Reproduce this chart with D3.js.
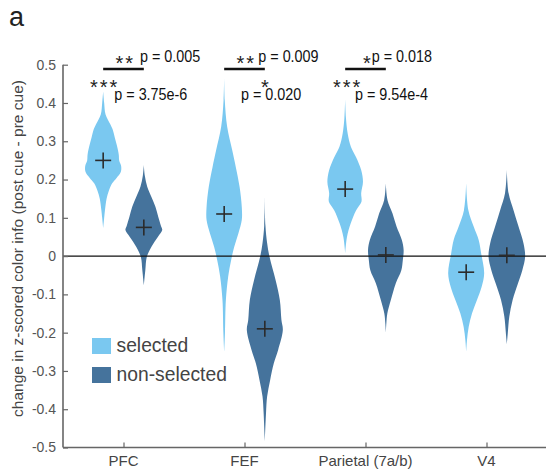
<!DOCTYPE html>
<html>
<head>
<meta charset="utf-8">
<script src="https://cdn.jsdelivr.net/npm/d3@7"></script>
<style>
  body { margin: 0; background: #fff; }
  svg { display: block; }
</style>
</head>
<body>
<svg id="chart" width="546" height="473"></svg>
<script>
// ---- data ----
const regions = ["PFC", "FEF", "Parietal (7a/b)", "V4"];
const groups = ["selected", "non-selected"];

// mean change per region (cross markers)
const meanSelected = [0.25, 0.11, 0.175, -0.042];
const meanNonSelected = [0.075, -0.19, 0.003, 0.002];

// bootstrap distributions as [value, relative density] profiles, top to bottom
const densitySelected = [
  [[0.43,0],[0.40,0.05],[0.37,0.12],[0.345,0.35],[0.33,0.48],[0.31,0.58],[0.29,0.68],[0.265,0.78],[0.25,0.8],[0.235,0.9],[0.22,0.88],[0.205,0.68],[0.19,0.45],[0.17,0.28],[0.15,0.17],[0.12,0.09],[0.10,0.05],[0.073,0]],
  [[0.465,0],[0.407,0.03],[0.338,0.15],[0.277,0.4],[0.233,0.58],[0.181,0.77],[0.129,0.88],[0.094,0.88],[0.059,0.71],[0.024,0.5],[-0.01,0.35],[-0.054,0.2],[-0.115,0.085],[-0.2,0.04],[-0.25,0]],
  [[0.41,0],[0.36,0.04],[0.32,0.125],[0.285,0.29],[0.259,0.54],[0.225,0.8],[0.194,0.89],[0.164,0.8],[0.142,0.815],[0.12,0.55],[0.085,0.275],[0.05,0.09],[0.007,0]],
  [[0.19,0],[0.12,0.11],[0.077,0.375],[0.042,0.625],[0.007,0.75],[-0.045,0.9],[-0.08,0.775],[-0.115,0.54],[-0.15,0.29],[-0.185,0.125],[-0.22,0.04],[-0.25,0]]
];
const densityNonSelected = [
  [[0.238,0],[0.21,0.05],[0.181,0.17],[0.155,0.375],[0.129,0.58],[0.103,0.72],[0.08,0.85],[0.068,0.92],[0.05,0.7],[0.024,0.375],[-0.002,0.15],[-0.037,0.075],[-0.076,0]],
  [[0.155,0],[0.08,0.03],[0.034,0.115],[-0.002,0.235],[-0.063,0.54],[-0.115,0.75],[-0.167,0.83],[-0.193,0.9],[-0.245,0.665],[-0.28,0.45],[-0.324,0.265],[-0.367,0.115],[-0.41,0.06],[-0.485,0]],
  [[0.19,0],[0.146,0.085],[0.111,0.335],[0.077,0.535],[0.042,0.8],[0.016,0.89],[-0.01,0.85],[-0.037,0.775],[-0.071,0.5],[-0.115,0.25],[-0.15,0.075],[-0.176,0.025],[-0.2,0]],
  [[0.225,0],[0.164,0.09],[0.12,0.335],[0.077,0.585],[0.033,0.835],[-0.002,0.915],[-0.037,0.775],[-0.071,0.56],[-0.115,0.29],[-0.158,0.125],[-0.2,0.05],[-0.23,0]]
];

const yTicks = [0.5, 0.4, 0.3, 0.2, 0.1, 0, -0.1, -0.2, -0.3, -0.4, -0.5];
const yTickLabels = ["0.5", "0.4", "0.3", "0.2", "0.1", "0", "-0.1", "-0.2", "-0.3", "-0.4", "-0.5"];

// significance: selected vs non-selected, and selected vs zero
const starsBetween = ["**", "**", "*"];
const pBetween = ["0.005", "0.009", "0.018"];
const starsSelected = ["***", "*", "***"];
const pSelected = ["3.75e-6", "0.020", "9.54e-4"];

// ---- layout ----
const colors = { "selected": "#7ac8f0", "non-selected": "#45739c" };
const svg = d3.select("#chart");
const plotLeft = 63, plotRight = 547, plotTop = 64.7, plotBottom = 447.5;
const sansFont = "Liberation Sans, Arial, sans-serif";

const x = d3.scaleLinear().domain([-0.5, regions.length - 0.5]).range([plotLeft, plotRight]);
const y = d3.scaleLinear().domain([-0.5, 0.5]).range([plotBottom, plotTop]);
const w = d3.scaleLinear().domain([0, 1]).range([0, 20]);
const groupOffset = { "selected": -0.168, "non-selected": 0.168 };

// panel letter
svg.append("text").attr("x", 9).attr("y", 26)
  .attr("font-family", sansFont)
  .attr("font-size", 27).attr("fill", "#222").text("a");

// violins
const violin = d3.area()
  .curve(d3.curveCatmullRom)
  .y(d => y(d[0]));

function drawViolins(profiles, group) {
  profiles.forEach((prof, i) => {
    const cx = x(i + groupOffset[group]);
    svg.append("path")
      .datum(prof)
      .attr("fill", colors[group])
      .attr("d", violin.x0(d => cx - w(d[1])).x1(d => cx + w(d[1])));
  });
}
drawViolins(densitySelected, "selected");
drawViolins(densityNonSelected, "non-selected");

// zero line
svg.append("line")
  .attr("x1", plotLeft).attr("x2", plotRight).attr("y1", y(0)).attr("y2", y(0))
  .attr("stroke", "#111").attr("stroke-width", 1.4);

// mean crosses
function drawCrosses(means, group) {
  means.forEach((m, i) => {
    const cx = x(i + groupOffset[group]), cy = y(m), r = 8;
    const g = svg.append("g").attr("stroke", "#2b2b2b").attr("stroke-width", 1.6);
    g.append("line").attr("x1", cx - r).attr("x2", cx + r).attr("y1", cy).attr("y2", cy);
    g.append("line").attr("x1", cx).attr("x2", cx).attr("y1", cy - r).attr("y2", cy + r);
  });
}
drawCrosses(meanSelected, "selected");
drawCrosses(meanNonSelected, "non-selected");

// axes
const axisColor = "#666";
const yAxis = svg.append("g").attr("transform", `translate(${plotLeft},0)`)
  .call(d3.axisRight(y).tickValues(yTicks).tickSize(5).tickFormat(""));
yAxis.select(".domain").attr("stroke", axisColor).attr("stroke-width", 1.6)
  .attr("d", `M0,${plotTop}V${plotBottom}`);
yAxis.selectAll(".tick line").attr("stroke", axisColor).attr("stroke-width", 1.2);

svg.append("g").selectAll("text").data(yTicks).join("text")
  .attr("x", 56).attr("y", d => y(d)).attr("dy", "0.35em")
  .attr("text-anchor", "end")
  .attr("font-family", sansFont)
  .attr("font-size", 14).attr("fill", "#555")
  .text((d, i) => yTickLabels[i]);

const xAxis = svg.append("g").attr("transform", `translate(0,${plotBottom})`)
  .call(d3.axisTop(x).tickValues(d3.range(regions.length)).tickSize(5).tickFormat(""));
xAxis.select(".domain").attr("stroke", axisColor).attr("stroke-width", 1.6)
  .attr("d", `M${plotLeft},0H${plotRight}`);
xAxis.selectAll(".tick line").attr("stroke", axisColor).attr("stroke-width", 1.2);

svg.append("g").selectAll("text").data(regions).join("text")
  .attr("x", (d, i) => x(i)).attr("y", 466)
  .attr("text-anchor", "middle")
  .attr("font-family", sansFont)
  .attr("font-size", 15).attr("fill", "#444")
  .text(d => d);

// y-axis title
svg.append("text")
  .attr("transform", `translate(23,248.5) rotate(-90)`)
  .attr("text-anchor", "middle")
  .attr("font-family", sansFont)
  .attr("font-size", 15.5).attr("fill", "#444")
  .text("change in z-scored color info (post cue - pre cue)");

// legend
groups.forEach((g, k) => {
  const ly = 338 + k * 29;
  svg.append("rect").attr("x", 92).attr("y", ly).attr("width", 19).attr("height", 16)
    .attr("fill", colors[g]);
  svg.append("text").attr("x", 116.5).attr("y", ly + 14)
    .attr("font-family", sansFont)
    .attr("font-size", 19.3).attr("fill", "#444").text(g);
});

// significance annotations (offsets from each region's centre)
const topStarDx = [-8, -8, -2.5], topPDx = [16.5, 13.8, 6.2];
const lowStarDx = [-33.5, 16.5, -32.5], lowPDx = [-9.2, -3.5, -10.5];
const pBaseTop = 61.5, pBaseLow = 99.5;
const condense = 0.87;

// one text element per annotation: raised stars followed by a condensed p-value
function annotation(sx, sy, stars, px, py, pStr) {
  const t = svg.append("text").attr("font-family", sansFont).attr("fill", "#111");
  t.append("tspan").attr("x", sx).attr("y", sy)
    .attr("font-size", 20).attr("fill", "#222").attr("letter-spacing", 2)
    .text(stars);
  const p = t.append("tspan").attr("x", px).attr("y", py)
    .attr("font-size", 16.5).attr("letter-spacing", 0)
    .text(pStr);
  const natural = p.node().getComputedTextLength();
  p.attr("textLength", natural * condense).attr("lengthAdjust", "spacingAndGlyphs");
}

pBetween.forEach((p, i) => {
  const xc = x(i);
  const x0 = x(i + groupOffset["selected"]), x1 = x(i + groupOffset["non-selected"]);
  svg.append("line").attr("x1", x0).attr("x2", x1).attr("y1", 69).attr("y2", 69)
    .attr("stroke", "#111").attr("stroke-width", 2.6);
  annotation(xc + topStarDx[i], 69.8, starsBetween[i], xc + topPDx[i], pBaseTop, "p = " + p);
  annotation(xc + lowStarDx[i], 93.5, starsSelected[i], xc + lowPDx[i], pBaseLow, "p = " + pSelected[i]);
});
</script>
</body>
</html>
